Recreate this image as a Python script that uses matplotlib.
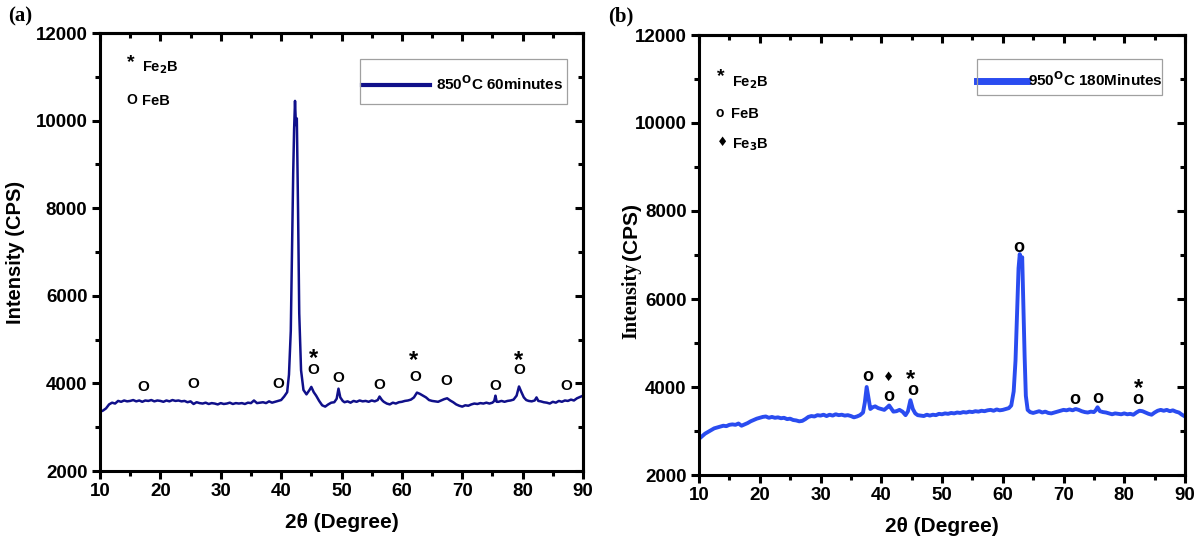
import matplotlib
matplotlib.use("Agg")
import matplotlib.pyplot as plt
from matplotlib.ticker import MultipleLocator
from matplotlib.patches import Rectangle
from matplotlib.transforms import offset_copy

plt.rcParams['font.family'] = ['Liberation Sans', 'DejaVu Sans']
plt.rcParams['font.weight'] = 'bold'
plt.rcParams['mathtext.default'] = 'bf'

# ---------------- data: panel (a) 850 C 60 minutes ----------------
x_a = [10, 10.5, 11, 11.5, 12, 12.5, 13, 13.5, 14, 14.5,
       15, 15.5, 16, 16.5, 17, 17.5, 18, 18.5, 19, 19.5,
       20, 20.5, 21, 21.5, 22, 22.5, 23, 23.5, 24, 24.5,
       25, 25.5, 26, 26.5, 27, 27.5, 28, 28.5, 29, 29.5,
       30, 30.5, 31, 31.5, 32, 32.5, 33, 33.5, 34, 34.5,
       35, 35.5, 36, 36.5, 37, 37.5, 38, 38.5, 39, 39.5,
       40, 40.5, 41, 41.3, 41.6, 41.8, 42.0, 42.15, 42.3, 42.45,
       42.6, 42.8, 43.0, 43.3, 43.7, 44.2, 44.7, 45.0, 45.4, 45.8,
       46.3, 46.8, 47.3, 47.8, 48.3, 48.8, 49.2, 49.5, 49.8, 50.2,
       50.5, 51, 51.5, 52, 52.5, 53, 53.5, 54, 54.5, 55,
       55.5, 56, 56.3, 56.7, 57, 57.5, 58, 58.5, 59, 59.5,
       60, 60.5, 61, 61.5, 62, 62.5, 63, 63.5, 64, 64.5,
       65, 65.5, 66, 66.5, 67, 67.5, 68, 68.5, 69, 69.5,
       70, 70.5, 71, 71.5, 72, 72.5, 73, 73.5, 74, 74.5,
       75, 75.3, 75.5, 75.7, 76, 76.5, 77, 77.5, 78, 78.5,
       79, 79.4, 79.8, 80.2, 80.6, 81, 81.5, 82, 82.3, 82.6,
       83, 83.5, 84, 84.5, 85, 85.5, 86, 86.5, 87, 87.5,
       88, 88.5, 89, 89.5, 90]
y_a = [3350, 3380, 3430, 3520, 3560, 3540, 3600, 3580, 3610, 3590,
       3600, 3620, 3590, 3610, 3580, 3610, 3600, 3620, 3590, 3610,
       3600, 3580, 3610, 3590, 3620, 3600, 3610, 3590, 3600, 3570,
       3590, 3530, 3570, 3550, 3540, 3560, 3530, 3550, 3540, 3520,
       3550, 3530, 3540, 3560, 3530, 3550, 3540, 3550, 3530, 3560,
       3550, 3610, 3550, 3560, 3570, 3550, 3590, 3560, 3580, 3600,
       3620, 3700, 3800, 4200, 5200, 7000, 8800, 9800, 10450, 9900,
       10050, 8000, 5600, 4300, 3850, 3750, 3850, 3920, 3800, 3720,
       3600, 3500, 3470, 3520, 3560, 3570, 3650, 3880, 3680, 3600,
       3570, 3590, 3560, 3600, 3580, 3610, 3590, 3600, 3580, 3610,
       3590, 3620, 3700, 3620, 3580, 3540, 3520, 3560, 3540, 3570,
       3580, 3600, 3610, 3630, 3680, 3790, 3760, 3720, 3680, 3620,
       3600, 3590, 3580, 3610, 3640, 3660, 3610, 3570, 3520, 3490,
       3470, 3500, 3490, 3520, 3540, 3530, 3550, 3540, 3560, 3540,
       3560, 3600, 3720, 3580, 3580, 3600, 3580, 3600, 3610, 3630,
       3720, 3930, 3800, 3680, 3620, 3600, 3590, 3610, 3680, 3600,
       3590, 3570, 3560, 3540, 3580, 3560, 3600, 3580, 3610, 3600,
       3630, 3610, 3660, 3690, 3720]

# ---------------- data: panel (b) 950 C 180 minutes ----------------
x_b = [10, 10.5, 11, 11.5, 12, 12.5, 13, 13.5, 14, 14.5,
       15, 15.5, 16, 16.5, 17, 17.5, 18, 18.5, 19, 19.5,
       20, 20.5, 21, 21.5, 22, 22.5, 23, 23.5, 24, 24.5,
       25, 25.5, 26, 26.5, 27, 27.5, 28, 28.5, 29, 29.5,
       30, 30.5, 31, 31.5, 32, 32.5, 33, 33.5, 34, 34.5,
       35, 35.5, 36, 36.5, 37, 37.3, 37.6, 37.9, 38.2, 38.6,
       39, 39.5, 40, 40.5, 41, 41.3, 41.7, 42, 42.5, 43,
       43.5, 44, 44.4, 44.8, 45.2, 45.6, 46, 46.5, 47, 47.5,
       48, 48.5, 49, 49.5, 50, 50.5, 51, 51.5, 52, 52.5,
       53, 53.5, 54, 54.5, 55, 55.5, 56, 56.5, 57, 57.5,
       58, 58.5, 59, 59.5, 60, 60.5, 61, 61.4, 61.8, 62.1,
       62.4, 62.6, 62.8, 63.0, 63.2, 63.4, 63.6, 63.8, 64.1, 64.5,
       65, 65.5, 66, 66.5, 67, 67.5, 68, 68.5, 69, 69.5,
       70, 70.5, 71, 71.5, 72, 72.5, 73, 73.5, 74, 74.5,
       75, 75.3, 75.6, 76, 76.5, 77, 77.5, 78, 78.5, 79,
       79.5, 80, 80.5, 81, 81.5, 82, 82.5, 83, 83.5, 84,
       84.5, 85, 85.5, 86, 86.5, 87, 87.5, 88, 88.5, 89,
       89.5, 90]
y_b = [2820, 2880, 2940, 2980, 3020, 3060, 3080, 3100, 3120, 3110,
       3140, 3150, 3140, 3170, 3120, 3150, 3180, 3220, 3250, 3280,
       3300, 3320, 3330, 3300, 3320, 3300, 3310, 3290, 3300, 3270,
       3280, 3250, 3240, 3220, 3230, 3270, 3320, 3340, 3330, 3360,
       3350, 3370, 3340, 3370, 3350, 3380, 3360, 3370, 3350, 3360,
       3340, 3310, 3330, 3360, 3420, 3650, 4000, 3750, 3500, 3540,
       3560, 3520, 3500, 3480, 3540, 3580, 3500, 3440, 3450, 3480,
       3440, 3360, 3450, 3700, 3500, 3400, 3360, 3350, 3340, 3370,
       3350, 3370, 3360, 3390, 3380, 3400, 3390, 3410, 3400, 3420,
       3410, 3430, 3420, 3440, 3430, 3450, 3440, 3460, 3450, 3470,
       3480, 3460, 3490, 3470, 3480, 3500, 3520, 3580, 3900, 4600,
       5900, 6700, 7020, 6750, 6950, 5800, 4700, 3800, 3480, 3430,
       3410, 3430, 3450, 3420, 3440, 3410, 3400, 3420, 3440, 3460,
       3480, 3470, 3490, 3470, 3500, 3480, 3450, 3430, 3420, 3440,
       3430, 3470, 3540, 3450, 3430, 3420, 3400, 3380, 3400, 3390,
       3380, 3400, 3380, 3390, 3370, 3420, 3460, 3450, 3420, 3390,
       3370, 3420, 3460, 3480, 3460, 3480, 3450, 3470, 3440, 3420,
       3370, 3330]

# peak markers: (x, y, symbol)
marks_a = [(17.24, 3918, 'O'), (25.5, 3990, 'O'), (39.6, 3990, 'O'), (45.3, 4306, 'O'), (45.3, 4694, '*'),
           (49.4, 4112, 'O'), (56.3, 3963, 'O'), (62.2, 4146, 'O'), (62.0, 4648, '*'), (67.4, 4054, 'O'),
           (75.5, 3941, 'O'), (79.5, 4306, 'O'), (79.3, 4648, '*'), (87.2, 3941, 'O')]
marks_b = [(37.7, 4234, 'o'), (41.2, 4205, '♦'), (41.2, 3795, 'o'), (44.8, 4295, '*'), (45.2, 3916, 'o'),
           (62.7, 7175, 'o'), (71.9, 3705, 'o'), (75.6, 3743, 'o'), (82.3, 4084, '*'), (82.2, 3705, 'o')]

W, H = 1199, 541
fig = plt.figure(figsize=(11.99, 5.41), dpi=100)
axA = fig.add_axes([100 / W, 1 - 471 / H, (583 - 100) / W, (471 - 33) / H])
axB = fig.add_axes([699 / W, 1 - 475 / H, (1185 - 699) / W, (475 - 35) / H])


def fx(px):
    return px / W


def fy(py):
    return 1 - py / H


def style(ax):
    ax.set_xlim(10, 90)
    ax.set_ylim(2000, 12000)
    ax.xaxis.set_major_locator(MultipleLocator(10))
    ax.xaxis.set_minor_locator(MultipleLocator(5))
    ax.yaxis.set_major_locator(MultipleLocator(2000))
    ax.yaxis.set_minor_locator(MultipleLocator(1000))
    for s in ax.spines.values():
        s.set_linewidth(2.2)
    ax.tick_params(which='major', direction='out', length=6, width=2.2, labelsize=13.5, pad=3)
    ax.tick_params(which='minor', direction='out', length=3.5, width=2.2)
    sec_x = ax.secondary_xaxis('top')
    sec_x.xaxis.set_major_locator(MultipleLocator(10))
    sec_x.xaxis.set_minor_locator(MultipleLocator(5))
    sec_x.tick_params(which='major', direction='in', length=6, width=2.2, labeltop=False)
    sec_x.tick_params(which='minor', direction='in', length=3.5, width=2.2)
    sec_x.spines['top'].set_linewidth(2.2)
    sec_y = ax.secondary_yaxis('right')
    sec_y.yaxis.set_major_locator(MultipleLocator(2000))
    sec_y.yaxis.set_minor_locator(MultipleLocator(1000))
    sec_y.tick_params(which='major', direction='in', length=6, width=2.2, labelright=False)
    sec_y.tick_params(which='minor', direction='in', length=3.5, width=2.2)
    sec_y.spines['right'].set_linewidth(2.2)
    for lab in ax.get_xticklabels() + ax.get_yticklabels():
        lab.set_fontweight('bold')
    ax.set_xlabel('2θ (Degree)', fontsize=15, fontweight='bold')
    ax.xaxis.set_label_coords(0.5, -(513 - 471) / 438)


style(axA)
style(axB)

star_a = offset_copy(axA.transData, fig=fig, y=-4, units='points')
star_b = offset_copy(axB.transData, fig=fig, y=-4, units='points')
small_star_a = offset_copy(axA.transData, fig=fig, y=-2.5, units='points')
small_star_b = offset_copy(axB.transData, fig=fig, y=-2.5, units='points')

# ---------------- panel (a) ----------------
axA.plot(x_a, y_a, color='#10108a', lw=1.8, label='850$^{\\mathrm{O}}$C 60minutes')
axA.set_ylabel('Intensity (CPS)', fontsize=14.5, fontweight='bold')
axA.yaxis.set_label_coords(-(100 - 25) / 483, 1 - (252 - 33) / 438)
fig.add_artist(Rectangle((fx(360), fy(104)), (567 - 360) / W, (104 - 59) / H, transform=fig.transFigure,
                         fill=False, edgecolor='#a0a0a0', lw=0.9))
legA = axA.legend(loc='center left', bbox_to_anchor=(fx(362), fy(84)), bbox_transform=fig.transFigure,
                  fontsize=11, frameon=False, handlelength=4.45, handletextpad=0.4, borderpad=0,
                  borderaxespad=0)
for line in legA.get_lines():
    line.set_linewidth(3)
for t in legA.get_texts():
    t.set_fontweight('bold')
axA.text(15.13, 11406, '*', fontsize=14, fontweight='bold', ha='center', va='center', transform=small_star_a)
axA.text(16.96, 11116, 'Fe$_{2}$B', fontsize=10.5, fontweight='bold', ha='left', va='baseline')
axA.text(15.3, 10459, 'O', fontsize=10, fontweight='bold', ha='center', va='center')
axA.text(16.96, 10356, 'FeB', fontsize=10.5, fontweight='bold', ha='left', va='baseline')
for x, y, s in marks_a:
    if s == '*':
        axA.text(x, y, s, fontsize=17, fontweight='bold', ha='center', va='center', transform=star_a)
    else:
        axA.text(x, y, s, fontsize=11, fontweight='bold', ha='center', va='center')

# ---------------- panel (b) ----------------
axB.plot(x_b, y_b, color='#2a4cf0', lw=2.8, label='950$^{\\mathrm{O}}$C 180Minutes')
fig.add_artist(Rectangle((fx(977), fy(95)), (1162 - 977) / W, (95 - 59) / H, transform=fig.transFigure,
                         fill=False, edgecolor='#a0a0a0', lw=0.9))
legB = axB.legend(loc='center left', bbox_to_anchor=(fx(977), fy(80)), bbox_transform=fig.transFigure,
                  fontsize=11, frameon=False, handlelength=3.3, handletextpad=0.05, borderpad=0,
                  borderaxespad=0)
for line in legB.get_lines():
    line.set_linewidth(5)
for t in legB.get_texts():
    t.set_fontweight('bold')
axB.text(13.62, 11136, '*', fontsize=14, fontweight='bold', ha='center', va='center', transform=small_star_b)
axB.text(15.43, 10841, 'Fe$_{2}$B', fontsize=10.5, fontweight='bold', ha='left', va='baseline')
axB.text(13.46, 10227, 'o', fontsize=10, fontweight='bold', ha='center', va='center')
axB.text(15.27, 10114, 'FeB', fontsize=10.5, fontweight='bold', ha='left', va='baseline')
axB.text(13.87, 9557, '♦', fontsize=9, ha='center', va='center', family=['DejaVu Sans'])
axB.text(15.43, 9432, 'Fe$_{3}$B', fontsize=10.5, fontweight='bold', ha='left', va='baseline')
for x, y, s in marks_b:
    if s == '♦':
        axB.text(x, y, s, fontsize=9, ha='center', va='center', family=['DejaVu Sans'])
    elif s == '*':
        axB.text(x, y, s, fontsize=17, fontweight='bold', ha='center', va='center', transform=star_b)
    else:
        axB.text(x, y, s, fontsize=13, fontweight='bold', ha='center', va='center')

# y label of (b): serif "Intensity" + sans "(CPS)"
fig.text(fx(631), fy(301), 'Intensity', rotation=90, fontsize=14.5, fontweight='bold',
         family=['Liberation Serif'], ha='center', va='center')
fig.text(fx(631), fy(232), '(CPS)', rotation=90, fontsize=15, fontweight='bold',
         ha='center', va='center')

# panel letters
fig.text(fx(8), fy(16), '(a)', fontsize=15, fontweight='bold', family=['Liberation Serif'],
         ha='left', va='center')
fig.text(fx(608), fy(16), '(b)', fontsize=15, fontweight='bold', family=['Liberation Serif'],
         ha='left', va='center')

fig.savefig('out.png', dpi=100)
